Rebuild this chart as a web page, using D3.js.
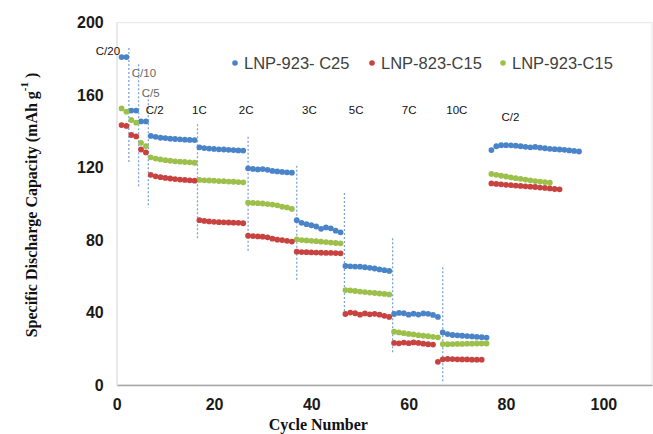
<!DOCTYPE html>
<html><head><meta charset="utf-8">
<script src="https://cdn.jsdelivr.net/npm/d3@7"></script>
<style>
html,body{margin:0;padding:0;background:#fff;}
svg{display:block;}
</style></head>
<body>
<svg id="chart" width="653" height="434"></svg>
<script>
// ---------- DATA ----------
const seriesNames = ["LNP-923- C25", "LNP-823-C15", "LNP-923-C15"];
const rateLabels = ["C/20","C/10","C/5","C/2","1C","2C","3C","5C","7C","10C","C/2"];

// first cycle number of every rate step, per series
const blueStart  = [1,3,5,7,17,27,37,47,57,67,77];
const redStart   = [1,3,5,7,17,27,37,47,57,66,77];
const greenStart = [1,3,5,7,17,27,37,47,57,67,77];

const blueValues = [
  [181, 181],
  [151.5, 151.5],
  [145.5, 145.5],
  [137.5, 137, 136.5, 136.3, 136, 135.8, 135.6, 135.4, 135.3, 135.2],
  [131.2, 130.8, 130.5, 130.3, 130.1, 130, 129.8, 129.7, 129.5, 129.4],
  [119.6, 119.3, 119, 119.2, 118.8, 118.2, 117.9, 117.6, 117.4, 117.2],
  [91, 89.5, 88.8, 88.2, 87.5, 86.2, 87, 86.5, 85.2, 84.3],
  [65.7, 65.5, 65.4, 65.3, 65, 64.7, 64.3, 63.8, 63.4, 63],
  [39.2, 39.8, 39.6, 38.8, 39.4, 38.9, 39.5, 39.3, 38.7, 37.6],
  [29, 28.1, 27.6, 27.4, 27.2, 27, 26.8, 26.6, 26.4, 26.2],
  [129.7, 131.8, 132.4, 132.4, 132.3, 132.1, 131.8, 131.5, 131.2, 131.4, 131, 130.7, 130.4, 130.2, 130, 129.8, 129.5, 129.2, 128.9]
];
const redValues = [
  [143.5, 143],
  [138, 137.2],
  [130, 128.4],
  [116, 115.2, 114.7, 114.3, 114, 113.7, 113.4, 113.2, 113, 112.8],
  [91, 90.6, 90.3, 90.1, 89.9, 89.8, 89.7, 89.6, 89.5, 89.3],
  [82.4, 82.2, 82, 81.9, 81.5, 80.8, 80.2, 80, 79.6, 79.2],
  [73.6, 73.4, 73.3, 73.2, 73.1, 73, 72.9, 72.9, 72.8, 72.7],
  [39.2, 40, 39.6, 38.8, 39.5, 39, 39.3, 38.8, 38.2, 37.6],
  [23.2, 23.0, 23.4, 23.1, 23.5, 23.2, 22.8, 22.5, 22.3],
  [12.8, 14.2, 14.4, 14.3, 14.2, 14.1, 14.1, 14.0, 14.0, 14.0],
  [111.3, 111, 110.8, 110.5, 110.3, 110.1, 109.9, 109.7, 109.5, 109.3, 109, 108.8, 108.5, 108.2, 108]
];
const greenValues = [
  [152.7, 150.9],
  [146.3, 144.8],
  [133.7, 131.9],
  [125.7, 125, 124.5, 124.1, 123.8, 123.5, 123.3, 123.1, 122.9, 122.7],
  [113.2, 113, 112.9, 112.8, 112.6, 112.5, 112.3, 112.2, 112, 111.9],
  [100.6, 100.5, 100.4, 100.2, 99.9, 99.6, 99.2, 98.4, 98, 97.2],
  [80.4, 80, 79.8, 79.6, 79.4, 79.1, 78.9, 78.6, 78.4, 78.2],
  [52.4, 52.2, 51.9, 51.6, 51.3, 51, 50.8, 50.5, 50.3, 50],
  [29.4, 29, 28.6, 28.2, 27.9, 27.5, 27.2, 26.9, 26.6, 26.3],
  [22.6, 22.5, 22.6, 22.7, 22.7, 22.8, 22.8, 22.9, 22.9, 22.9],
  [116.5, 116, 115.5, 115.1, 114.6, 114.2, 113.8, 113.4, 113, 112.6, 112.3, 112, 111.7]
];

// rate-change markers: cycle where the dotted line sits, and its low/high capacity extent
const dividerCycles = [2.5, 4.5, 6.5, 16.6, 27, 37, 46.8, 56.7, 67];
const dividerLow    = [122, 109, 98, 81, 73, 57.5, 38, 18, 2];
const dividerHigh   = [186, 177, 160, 144, 137, 121, 106, 81, 65];

const xTicks = [0, 20, 40, 60, 80, 100];
const yTicks = [0, 40, 80, 120, 160, 200];

// ---------- LAYOUT ----------
const W = 653, H = 434;
const plot = {left: 116.7, right: 652, top: 22.7, bottom: 385};
const colors = ["#4A84C8", "#C8423F", "#9CC04A"];
// label anchor positions (cycle, capacity) for rate labels
const labelPos = [[-1.8,184.5],[5.6,172],[7.0,161.4],[7.8,151.8],[17.0,151.8],[26.6,151.8],[39.6,151.8],[49.2,151.8],[60.1,151.8],[69.9,151.8],[80.9,148]];
const labelColor = ["#111","#666","#666","#111","#111","#111","#111","#111","#111","#111","#111"];

const svg = d3.select("#chart");
const x = d3.scaleLinear().domain([0, 110]).range([plot.left, plot.right]);
const y = d3.scaleLinear().domain([0, 200]).range([plot.bottom, plot.top]);

// plot frame
svg.append("rect").attr("x", plot.left).attr("y", plot.top)
  .attr("width", plot.right - plot.left).attr("height", plot.bottom - plot.top)
  .attr("fill", "none").attr("stroke", "#e4e4e4").attr("stroke-width", 1);

// x axis
const xAxis = svg.append("g").attr("transform", `translate(0,${plot.bottom})`)
  .call(d3.axisBottom(x).tickValues(xTicks).tickSize(0).tickPadding(14));
xAxis.select(".domain").attr("stroke", "#a6a6a6").attr("stroke-width", 1.3);
xAxis.selectAll("text").attr("font-family", "Liberation Sans, Arial, sans-serif")
  .attr("font-weight", "bold").attr("font-size", "16px").attr("fill", "#1a1a1a");

// y axis
const yAxis = svg.append("g").attr("transform", `translate(${plot.left},0)`)
  .call(d3.axisLeft(y).tickValues(yTicks).tickSize(0).tickPadding(13));
yAxis.select(".domain").attr("stroke", "#e4e4e4");
yAxis.selectAll("text").attr("font-family", "Liberation Sans, Arial, sans-serif")
  .attr("font-weight", "bold").attr("font-size", "16px").attr("fill", "#1a1a1a");

// dotted dividers
svg.append("g").selectAll("line").data(dividerCycles).join("line")
  .attr("x1", d => x(d)).attr("x2", d => x(d))
  .attr("y1", (d, i) => y(dividerHigh[i])).attr("y2", (d, i) => y(dividerLow[i]))
  .attr("stroke", "#7ea4d8").attr("stroke-width", 1.3).attr("stroke-dasharray", "2,2");

// series dots
function flatten(starts, vals) {
  const out = [];
  vals.forEach((seg, s) => seg.forEach((v, k) => out.push({c: starts[s] + k, v})));
  return out;
}
const allSeries = [flatten(blueStart, blueValues), flatten(redStart, redValues), flatten(greenStart, greenValues)];
[0, 2, 1].forEach(si => {
  svg.append("g").selectAll("circle").data(allSeries[si]).join("circle")
    .attr("cx", d => x(d.c)).attr("cy", d => y(d.v)).attr("r", 2.9)
    .attr("fill", colors[si]);
});

// rate labels
svg.append("g").selectAll("text").data(rateLabels).join("text")
  .attr("x", (d, i) => x(labelPos[i][0])).attr("y", (d, i) => y(labelPos[i][1]))
  .attr("text-anchor", "middle").attr("dominant-baseline", "central")
  .attr("font-family", "Liberation Sans, Arial, sans-serif").attr("font-size", "11.5px")
  .attr("fill", (d, i) => labelColor[i]).text(d => d);

// legend
const legendX = [235, 372, 503];
const lg = svg.append("g");
seriesNames.forEach((n, i) => {
  lg.append("circle").attr("cx", legendX[i]).attr("cy", 63).attr("r", 2.8).attr("fill", colors[i]);
  lg.append("text").attr("x", legendX[i] + 9).attr("y", 63).attr("dominant-baseline", "central")
    .attr("font-family", "Liberation Sans, Arial, sans-serif").attr("font-size", "16.5px")
    .attr("fill", "#404040").text(n);
});

// axis titles
svg.append("text").attr("x", (plot.left + 520) / 2).attr("y", 429.5)
  .attr("text-anchor", "middle").attr("font-family", "Liberation Serif, Times New Roman, serif")
  .attr("font-weight", "bold").attr("font-size", "16px").attr("fill", "#111").text("Cycle Number");

const yt = svg.append("text").attr("transform", "translate(36.5,205) rotate(-90)")
  .attr("text-anchor", "middle").attr("font-family", "Liberation Serif, Times New Roman, serif")
  .attr("font-weight", "bold").attr("font-size", "16px").attr("fill", "#111");
yt.append("tspan").text("Specific Discharge Capacity (mAh g");
yt.append("tspan").attr("dy", "-9").attr("font-size", "11px").text("-1");
yt.append("tspan").attr("dy", "9").text("  )");
</script>
</body></html>
